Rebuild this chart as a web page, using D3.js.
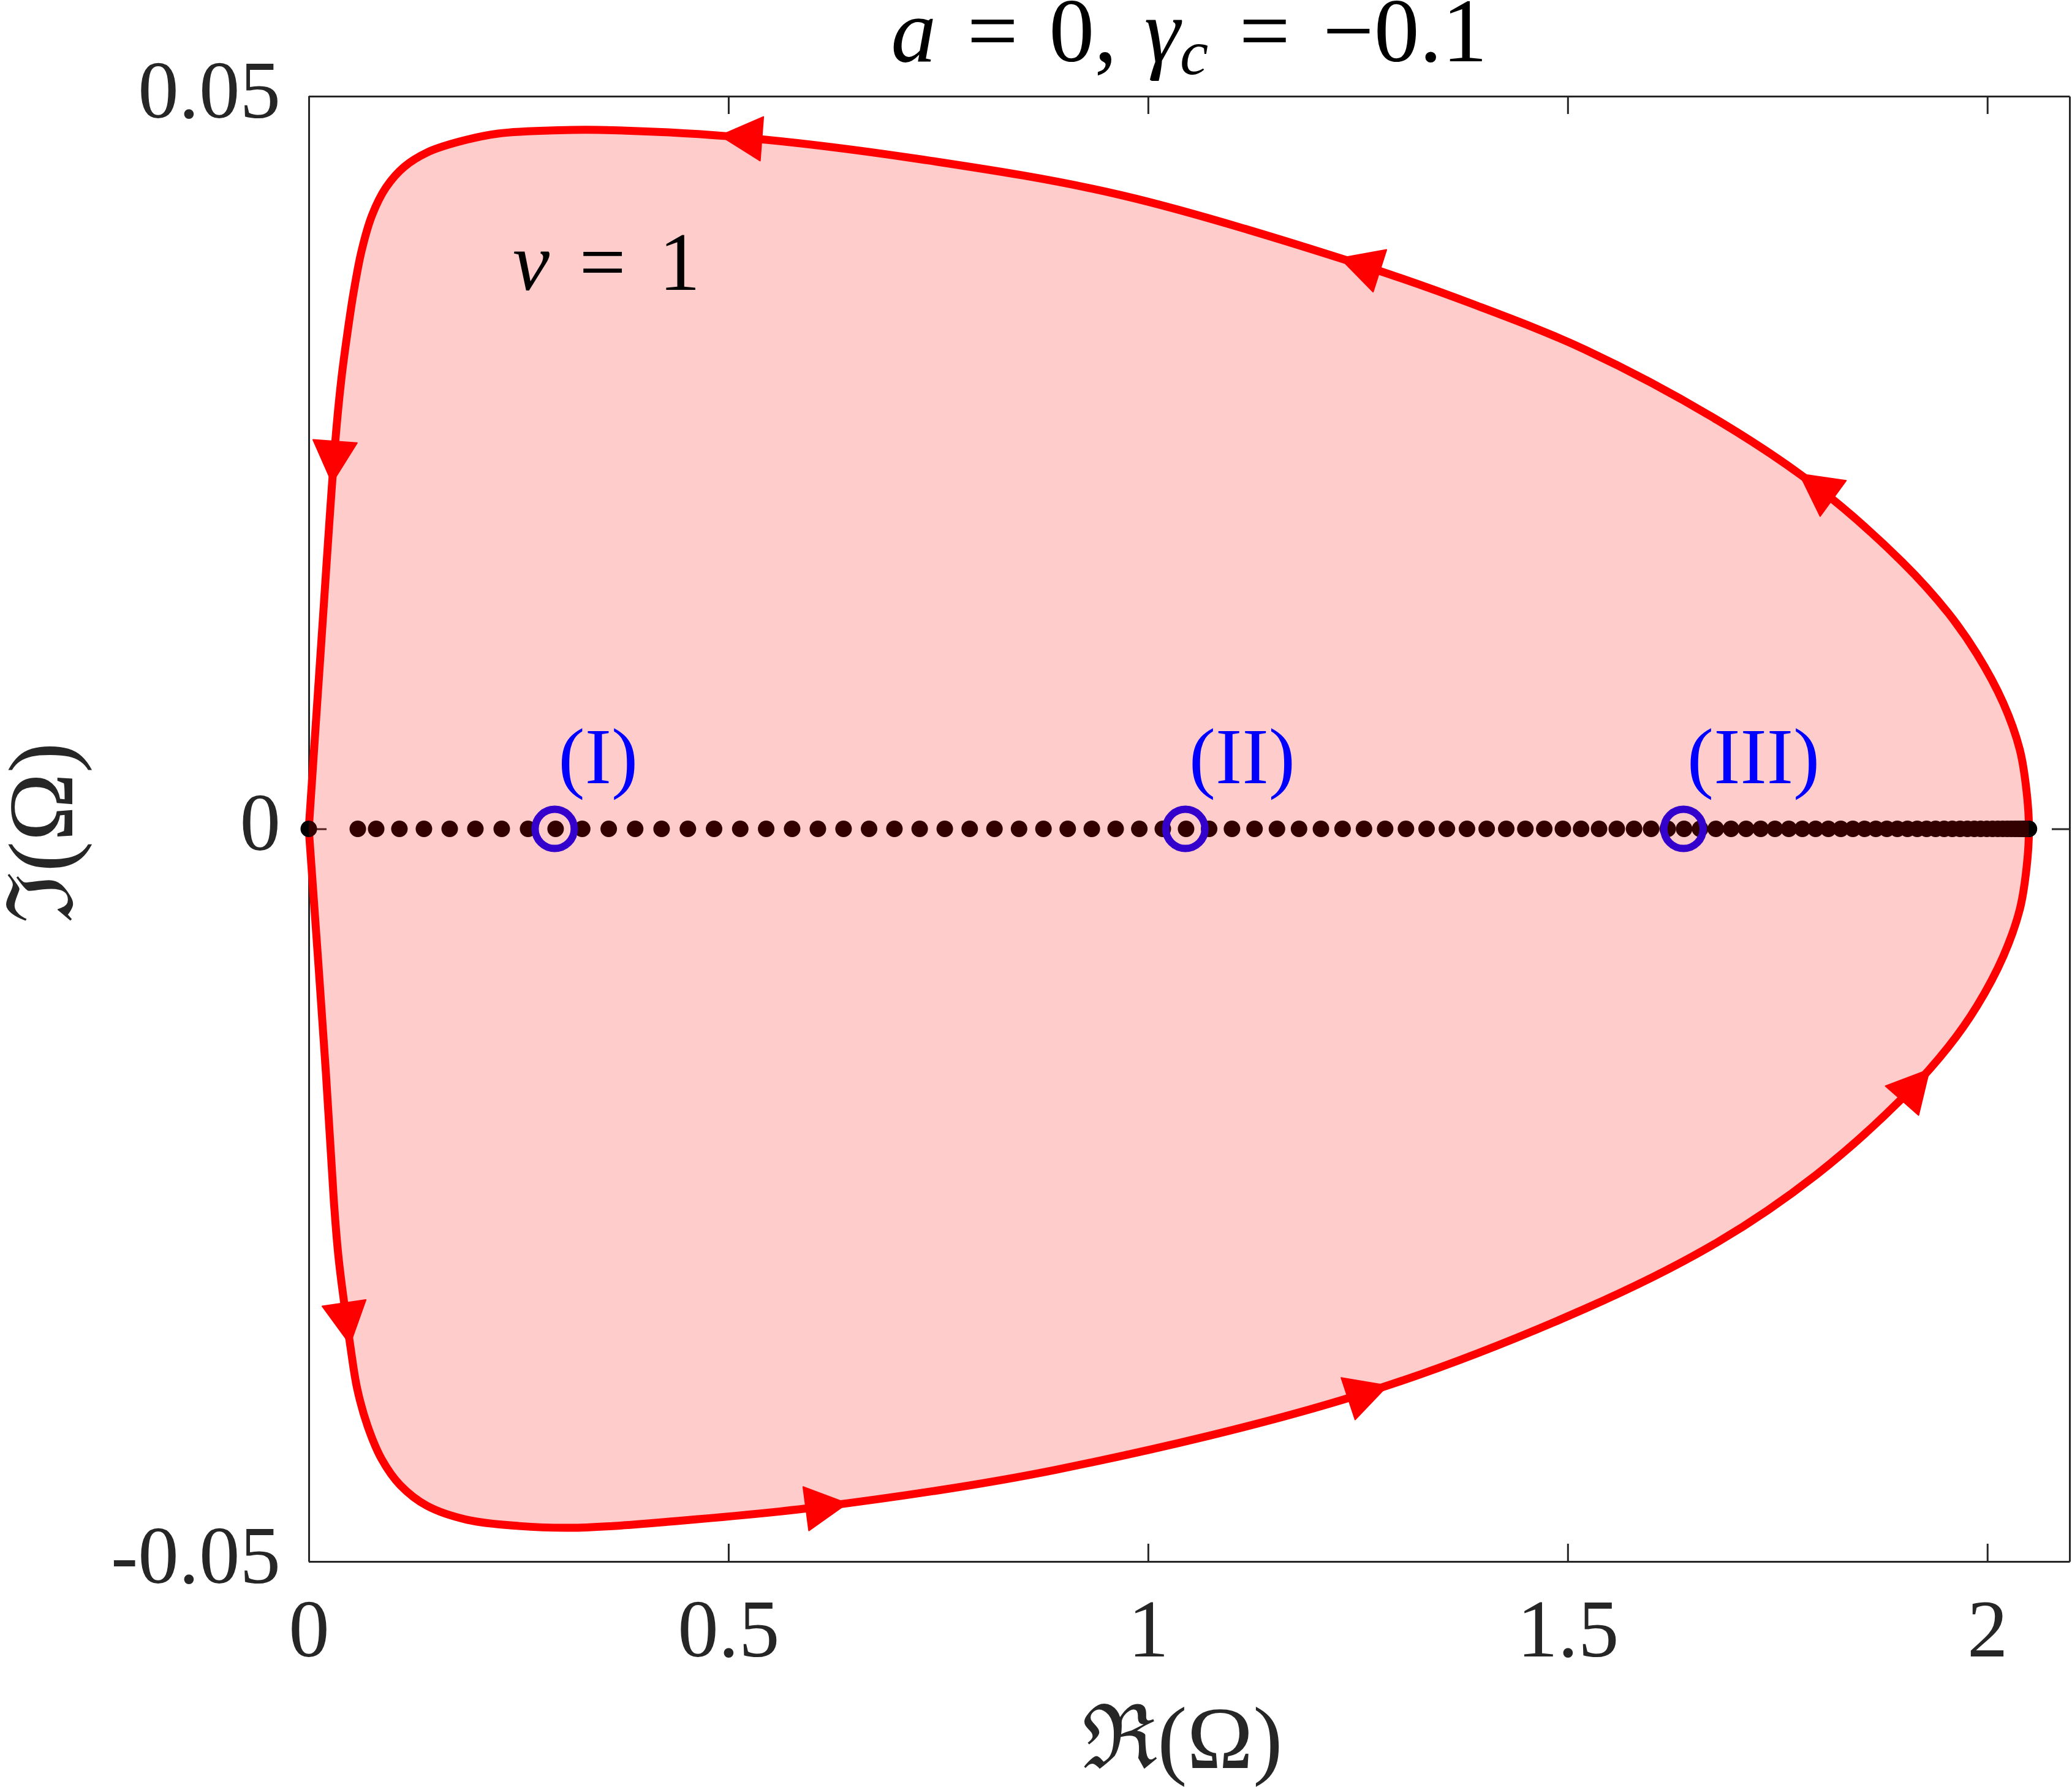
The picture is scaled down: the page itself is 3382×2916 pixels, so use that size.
<!DOCTYPE html>
<html><head><meta charset="utf-8">
<script src="https://cdn.jsdelivr.net/npm/d3@7"></script>
<style>body{margin:0;background:#fff} svg{display:block}</style>
</head><body>
<script>
// ---- data ----
const upperRe = [0, 0.0150, 0.0314, 0.0387, 0.0460, 0.0533, 0.0628, 0.0752, 0.0920, 0.1139, 0.1409, 0.1774, 0.2255, 0.2985, 0.3620, 0.5139, 0.7343, 0.9701, 1.2533, 1.3876, 1.5212, 1.6788, 1.7964, 1.8985, 1.9533, 1.9876, 2.0190, 2.0387, 2.0467, 2.0496];
const upperIm = [0, 0.0128, 0.02632, 0.03064, 0.03382, 0.03658, 0.03942, 0.04185, 0.04377, 0.04519, 0.04616, 0.04687, 0.04745, 0.04768, 0.04768, 0.04720, 0.04565, 0.04322, 0.03850, 0.03580, 0.03269, 0.02788, 0.02336, 0.01822, 0.01474, 0.01194, 0.00859, 0.00541, 0.00261, 0];
const lowerRe = [0, 0.0204, 0.0299, 0.0358, 0.0496, 0.0577, 0.0701, 0.0869, 0.1088, 0.1409, 0.1891, 0.2504, 0.3109, 0.3620, 0.4190, 0.6080, 0.8912, 1.2533, 1.5212, 1.6788, 1.7964, 1.8985, 1.9533, 1.9876, 2.0190, 2.0387, 2.0467, 2.0496];
const lowerIm = [0, -0.01664, -0.02542, -0.02943, -0.03533, -0.03821, -0.04076, -0.04302, -0.04478, -0.04620, -0.04716, -0.04758, -0.04770, -0.04758, -0.04733, -0.04628, -0.04373, -0.03859, -0.03274, -0.02820, -0.02360, -0.01840, -0.01490, -0.01210, -0.00870, -0.00550, -0.00270, 0];
const dotRe = [0, 0.0584, 0.0803, 0.1080, 0.1372, 0.1679, 0.1985, 0.2299, 0.2613, 0.2941, 0.3258, 0.3574, 0.3889, 0.4204, 0.4517, 0.4829, 0.5141, 0.5450, 0.5759, 0.6066, 0.6372, 0.6676, 0.6978, 0.7279, 0.7578, 0.7875, 0.8170, 0.8463, 0.8754, 0.9043, 0.9330, 0.9614, 0.9896, 1.0176, 1.0453, 1.0728, 1.1000, 1.1269, 1.1536, 1.1799, 1.2060, 1.2318, 1.2573, 1.2825, 1.3073, 1.3319, 1.3561, 1.3800, 1.4035, 1.4268, 1.4496, 1.4721, 1.4943, 1.5160, 1.5374, 1.5585, 1.5791, 1.5994, 1.6192, 1.6387, 1.6578, 1.6765, 1.6947, 1.7126, 1.7300, 1.7470, 1.7635, 1.7797, 1.7954, 1.8106, 1.8255, 1.8398, 1.8538, 1.8672, 1.8803, 1.8928, 1.9049, 1.9165, 1.9277, 1.9384, 1.9486, 1.9583, 1.9676, 1.9763, 1.9846, 1.9921, 1.9994, 2.0062, 2.0125, 2.0183, 2.0237, 2.0285, 2.0328, 2.0367, 2.0400, 2.0429, 2.0452, 2.0471, 2.0484, 2.0493, 2.0496];
const markedRe = [0.2930, 1.0445, 1.6380];
const markedLabels = ["(I)", "(II)", "(III)"];
const arrowTipRe = [0.0453, 0.643, 1.2847, 1.930, 1.778, 1.2307, 0.4898, 0.0285];
const arrowTipIm = [-0.03517, -0.0463, -0.0379, -0.0163, 0.02436, 0.03929, 0.04753, 0.02363];
const xTicks = [0, 0.5, 1, 1.5, 2];
const xTickLabels = ["0", "0.5", "1", "1.5", "2"];
const yTicks = [-0.05, 0, 0.05];
const yTickLabels = ["-0.05", "0", "0.05"];

// ---- layout ----
const W = 3382, H = 2916;
const L = 504, R = 3378, T = 157, B = 2548;
const FONT = "'Liberation Serif', 'DejaVu Serif', serif";
const x = d3.scaleLinear().domain([0, 2.098]).range([L, R]);
const y = d3.scaleLinear().domain([-0.05, 0.05]).range([B, T]);

const svg = d3.select("body").append("svg").attr("width", W).attr("height", H)
  .style("font-family", FONT);

// axes
const axColor = "#262626";
function styleAxis(g) {
  g.selectAll("path.domain").attr("stroke", axColor).attr("stroke-width", 3);
  g.selectAll(".tick line").attr("stroke", axColor).attr("stroke-width", 3);
}
const gB = svg.append("g").attr("transform", `translate(0,${B})`)
  .call(d3.axisBottom(x).tickValues(xTicks).tickSizeInner(-29).tickSizeOuter(0)
    .tickFormat((d, i) => xTickLabels[i]));
styleAxis(gB);
gB.selectAll("text").attr("y", 155).attr("dy", 0).attr("font-size", 133)
  .attr("font-family", FONT).attr("fill", axColor);
const gT = svg.append("g").attr("transform", `translate(0,${T})`)
  .call(d3.axisTop(x).tickValues(xTicks).tickSizeInner(-29).tickSizeOuter(0).tickFormat(""));
styleAxis(gT);
const gL = svg.append("g").attr("transform", `translate(${L},0)`)
  .call(d3.axisLeft(y).tickValues(yTicks).tickSizeInner(-29).tickSizeOuter(0)
    .tickFormat((d, i) => yTickLabels[i]));
styleAxis(gL);
gL.selectAll("text").attr("x", -46).attr("dy", 34).attr("font-size", 133)
  .attr("font-family", FONT).attr("fill", axColor);
const gR = svg.append("g").attr("transform", `translate(${R},0)`)
  .call(d3.axisRight(y).tickValues(yTicks).tickSizeInner(-29).tickSizeOuter(0).tickFormat(""));
styleAxis(gR);

// contour in traversal order: lower branch left->right, upper branch right->left
const lowerPts = lowerRe.map((v, i) => [v, lowerIm[i]]);
const upperPts = upperRe.map((v, i) => [v, upperIm[i]]);
const contour = lowerPts.concat(upperPts.slice(0, -1).reverse());
const line = d3.line().x(d => x(d[0])).y(d => y(d[1])).curve(d3.curveCatmullRom.alpha(0.5));

const curve = svg.append("path").attr("d", line(contour))
  .attr("fill", "none").attr("stroke", "#ff0000").attr("stroke-width", 13)
  .attr("stroke-linejoin", "round");

// arrows along the contour
const node = curve.node();
const total = node.getTotalLength();
const samples = [];
for (let l = 0; l <= total; l += 2) { const p = node.getPointAtLength(l); samples.push([l, p.x, p.y]); }
const arrowLen = 68, arrowW = 72;
arrowTipRe.forEach((re, i) => {
  const px = x(re), py = y(arrowTipIm[i]);
  let best = samples[0], bd = Infinity;
  samples.forEach(s => { const d = (s[1] - px) ** 2 + (s[2] - py) ** 2; if (d < bd) { bd = d; best = s; } });
  const l = best[0];
  const a = node.getPointAtLength(Math.max(0, l - 6)), b = node.getPointAtLength(Math.min(total, l + 6));
  let ux = b.x - a.x, uy = b.y - a.y; const n = Math.hypot(ux, uy); ux /= n; uy /= n;
  const tx = best[1], ty = best[2];
  const bx = tx - arrowLen * ux, by = ty - arrowLen * uy;
  const nx = -uy, ny = ux;
  const pts = [[tx, ty], [bx + nx * arrowW / 2, by + ny * arrowW / 2], [bx - nx * arrowW / 2, by - ny * arrowW / 2]];
  svg.append("path").attr("d", "M" + pts.map(p => p.join(",")).join("L") + "Z")
    .attr("fill", "#ff0000").attr("stroke", "#ff0000").attr("stroke-width", 2).attr("stroke-linejoin", "round");
});

// dots
svg.append("g").selectAll("circle").data(dotRe).join("circle")
  .attr("cx", d => x(d)).attr("cy", y(0)).attr("r", 13.5).attr("fill", "#000");

// marked points
svg.append("g").selectAll("circle").data(markedRe).join("circle")
  .attr("cx", d => x(d)).attr("cy", y(0)).attr("r", 32)
  .attr("fill", "none").attr("stroke", "#0000ff").attr("stroke-width", 12);

// translucent fill over everything inside
svg.append("path").attr("d", line(contour) + "Z")
  .attr("fill", "#ff0000").attr("fill-opacity", 0.2).attr("stroke", "none");

// labels
svg.append("g").selectAll("text").data(markedRe).join("text")
  .attr("x", d => x(d) + 6).attr("y", y(0.0031))
  .attr("font-size", 130).attr("fill", "#0000ff")
  .text((d, i) => markedLabels[i]);

const nu = svg.append("text").attr("x", x(0.243)).attr("y", y(0.0368))
  .attr("font-size", 135).attr("fill", "#000");
nu.append("tspan").attr("font-style", "italic").text("ν");
nu.append("tspan").attr("dx", "0.36em").text("=");
nu.append("tspan").attr("dx", "0.40em").text("1");

// title
const title = svg.append("text").attr("x", (L + R) / 2).attr("y", 100)
  .attr("text-anchor", "middle").attr("font-size", 148).attr("fill", "#000");
title.append("tspan").attr("font-style", "italic").text("a");
title.append("tspan").attr("dx", "0.34em").text("=");
title.append("tspan").attr("dx", "0.34em").text("0,");
title.append("tspan").attr("dx", "0.30em").attr("font-style", "italic").text("γ");
title.append("tspan").attr("font-style", "italic").attr("font-size", 104).attr("dy", 21).text("c");
title.append("tspan").attr("dx", "0.34em").attr("dy", -21).text("=");
title.append("tspan").attr("dx", "0.36em").text("−0.1");

// axis labels
svg.append("text").attr("x", 1930).attr("y", 2885).attr("text-anchor", "middle")
  .attr("font-size", 145).attr("fill", axColor).text("ℜ(Ω)");
svg.append("text").attr("transform", "translate(118,1359) rotate(-90)").attr("text-anchor", "middle")
  .attr("font-size", 150).attr("fill", axColor).text("ℑ(Ω)");
</script>
</body></html>
